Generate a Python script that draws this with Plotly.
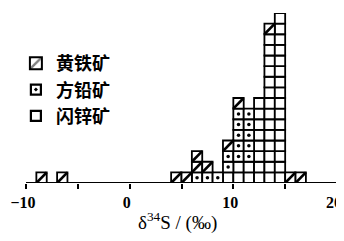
import plotly.graph_objects as go

# Bin centres of delta34S (per mil), 1 per-mil wide bins
bin_centers = [-8.5, -6.5, 4.5, 5.5, 6.5, 7.5, 8.5, 9.5, 10.5, 11.5, 12.5, 13.5, 14.5, 15.5, 16.5]
# number of samples per bin for each mineral
sphalerite = [0, 0, 0, 0, 0, 0, 0, 1, 2, 2, 8, 14, 16, 0, 0]   # 闪锌矿
galena     = [0, 0, 0, 0, 1, 1, 1, 2, 5, 5, 0, 0, 0, 0, 0]     # 方铅矿
pyrite     = [1, 1, 1, 1, 2, 1, 0, 1, 1, 0, 0, 1, 0, 1, 1]     # 黄铁矿

names = ["闪锌矿", "方铅矿", "黄铁矿"]
tick_vals = [-10, 0, 10, 20]
tick_text = ["−10", "0", "10", "20"]
x_title = "δ<sup>34</sup>S / (‰)"

series = [sphalerite, galena, pyrite]
running = [0] * len(bin_centers)
cells = {}
for name, counts in zip(names, series):
    xs, bases = [], []
    for i, c in enumerate(counts):
        for k in range(c):
            xs.append(bin_centers[i])
            bases.append(running[i] + k)
        running[i] += c
    cells[name] = (xs, bases)

line = dict(color="black", width=1.8)
fig = go.Figure()

for name in names:
    xs, bs = cells[name]
    fig.add_trace(go.Bar(x=xs, y=[1] * len(xs), base=bs, width=1, showlegend=False,
                         marker=dict(color="white", line=line), cliponaxis=False,
                         hoverinfo="skip"))

# galena: centre dot in each cell
xs, bs = cells["方铅矿"]
fig.add_trace(go.Scatter(x=xs, y=[b + 0.5 for b in bs], mode="markers", showlegend=False,
                         marker=dict(symbol="circle", size=3.5, color="black"),
                         hoverinfo="skip", cliponaxis=False))
# pyrite: one diagonal stroke per cell
xs, bs = cells["黄铁矿"]
dx, dy = [], []
for x, b in zip(xs, bs):
    dx += [x - 0.5, x + 0.5, None]
    dy += [b, b + 1, None]
fig.add_trace(go.Scatter(x=dx, y=dy, mode="lines", showlegend=False,
                         line=dict(color="black", width=2.6), hoverinfo="skip",
                         cliponaxis=False))

# legend entries
fig.add_trace(go.Bar(x=[None], y=[None], name="黄铁矿", legendgroup="a",
                     marker=dict(color="white", line=dict(color="black", width=2),
                                 pattern=dict(shape="/", size=12, solidity=0.3,
                                              fgcolor="black", bgcolor="white"))))
fig.add_trace(go.Scatter(x=[None], y=[None], name="方铅矿", legendgroup="b", mode="markers",
                         marker=dict(symbol="square-open-dot", size=10, color="black",
                                     line=dict(width=2.2, color="black"))))
fig.add_trace(go.Scatter(x=[None], y=[None], name="闪锌矿", legendgroup="c", mode="markers",
                         marker=dict(symbol="square-open", size=10, color="black",
                                     line=dict(width=2.2, color="black"))))

fig.update_layout(
    width=344, height=241,
    margin=dict(l=0, r=15, t=5, b=65.5),
    paper_bgcolor="white", plot_bgcolor="white",
    barmode="overlay",
    showlegend=True,
    legend=dict(
        x=0.024, y=0.812, xanchor="left", yanchor="top", traceorder="normal",
        font=dict(family="Noto Sans CJK SC", size=18, color="black", weight=700),
        tracegroupgap=1, itemwidth=30, bgcolor="rgba(0,0,0,0)",
    ),
    xaxis=dict(
        range=[-11.736, 20], tickvals=tick_vals, ticktext=tick_text, automargin=False,
        showline=False,
        ticks="outside", ticklen=5, tickwidth=2, tickcolor="black",
        minor=dict(dtick=5, tick0=0, ticks="outside", ticklen=5, tickwidth=2, tickcolor="black"),
        showgrid=False, zeroline=False, ticklabelshift=-3, ticklabeloverflow="allow",
        tickfont=dict(family="Liberation Serif", size=16, color="black", weight=700),
    ),
    yaxis=dict(range=[0, 16], visible=False, automargin=False),
    shapes=[dict(type="line", xref="x", yref="y", x0=tick_vals[0], x1=tick_vals[-1],
                 y0=0, y1=0, line=dict(color="black", width=2))],
    annotations=[dict(
        text=x_title, xref="paper", yref="paper",
        x=0.514, y=-0.226, xanchor="center", yanchor="middle", showarrow=False,
        font=dict(family="Liberation Serif", size=19, color="black"),
    )],
)

fig.write_html("out.html")
